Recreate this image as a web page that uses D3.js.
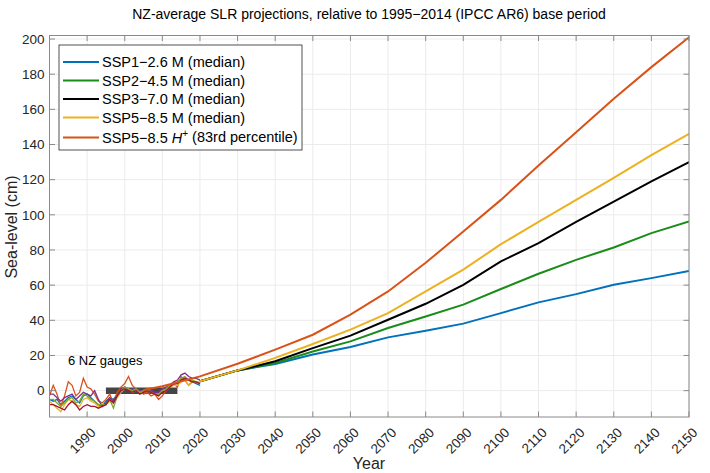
<!DOCTYPE html>
<html><head><meta charset="utf-8">
<script src="https://cdn.jsdelivr.net/npm/d3@7"></script>
<style>body{margin:0;background:#fff;} text{font-family:"Liberation Sans",Arial,sans-serif;}</style>
</head><body><svg id="c" width="710" height="473"></svg>
<script>
const projYears = [2020,2030,2040,2050,2060,2070,2080,2090,2100,2110,2120,2130,2140,2150];
const ssp126 = [5.3,11.5,15.2,20.5,24.8,30.3,34.1,38.1,44.1,50.2,54.9,60.2,64.0,68.0];
const ssp245 = [5.3,11.5,15.7,22.3,28.0,35.6,42.2,48.9,57.8,66.5,74.4,81.4,89.6,96.2];
const ssp370 = [5.3,11.5,16.7,24.2,31.3,40.3,49.4,60.2,73.5,83.9,96.0,107.5,119.0,130.0];
const ssp585 = [5.3,11.5,18.6,26.5,34.7,44.1,56.4,68.8,83.3,96.0,108.5,121.0,134.0,146.0];
const hYears = [2005,2010,2020,2030,2040,2050,2060,2070,2080,2090,2100,2110,2120,2130,2140,2150];
const ssp585H = [0.3,2.5,8.1,15.3,23.3,31.8,43.2,56.4,72.7,90.5,108.5,128.0,147.0,166.0,184.0,201.0];
const projNames = ["SSP1\u22122.6 M (median)","SSP2\u22124.5 M (median)","SSP3\u22127.0 M (median)","SSP5\u22128.5 M (median)"];
const projColors = ["#0072BD","#1a8c1a","#000000","#EDB120","#D95319"];

const gaugeYears = d3.range(1980, 2021);
const gauge1 = [-5,-6,-5,-8,-6,-4,-3,-5,-7,-3,-2,-4,-6,-8,-9,-6,-4,-5,-2,0,2,1,0,0,-1,0,1,0,-1,-2,0,1,2,4,4,6,7,6,5,4,3];
const gauge2 = [-3,3,-2,-9,-3,5,3,-3,-1,7,2,1,-2,-6,-7,-5,-2,-7,-1,2,4,8,3,1,0,-2,-1,-3,-2,-5,-3,0,3,4,2,8,6,3,5,5,4];
const gauge3 = [-6,-8,-10,-12,-8,-5,-6,-8,-9,-5,-4,-6,-7,-9,-9,-8,-6,-7,-4,-1,1,1,-1,0,-1,-1,0,-1,-2,-2,0,0,2,3,3,5,6,3,6,5,5];
const gauge4 = [-2,-2,-4,-6,-4,-3,-2,-5,-3,-1,-2,-3,0,-5,-9,-7,-4,-6,-3,1,2,0,1,1,0,0,1,0,-1,-1,1,2,3,5,6,9,10,8,7,7,6];
const gauge5 = [-5,-5,-7,-9,-7,-5,-4,-7,-6,-2,-3,-5,-6,-8,-8,-8,-5,-10,-3,0,2,1,0,1,-1,0,1,-1,-2,-2,0,1,3,4,5,7,8,6,6,5,4];
const gauge6 = [-8,-8,-9,-10,-11,-8,-6,-8,-11,-9,-8,-9,-9,-10,-9,-8,-5,-7,-3,0,1,0,-1,0,-2,-1,0,-1,-2,-3,-1,0,2,4,4,6,7,6,5,5,4];
const gaugeColors = ["#0072BD","#D95319","#EDB120","#7E2F8E","#77AC30","#A2142F"];
const basePeriod = [1995, 2014];
const xTicks = d3.range(1990, 2151, 10);
const yTicks = d3.range(0, 201, 20);

const svg = d3.select("#c");
const L=49.5, R=689, T=35.5, B=417;
const x = d3.scaleLinear().domain([1980,2150]).range([L,R]);
const y = d3.scaleLinear().domain([-15,202]).range([B,T]);

// grid
const g = svg.append("g");
g.selectAll(".gx").data(xTicks).join("line").attr("x1",d=>x(d)).attr("x2",d=>x(d)).attr("y1",T).attr("y2",B).attr("stroke","#ebebeb").attr("stroke-width",1);
g.selectAll(".gy").data(yTicks).join("line").attr("x1",L).attr("x2",R).attr("y1",d=>y(d)).attr("y2",d=>y(d)).attr("stroke","#ebebeb").attr("stroke-width",1);

const clip = svg.append("clipPath").attr("id","cp").append("rect").attr("x",L).attr("y",T).attr("width",R-L).attr("height",B-T);
const plot = svg.append("g").attr("clip-path","url(#cp)");

// base period bar
plot.append("line").attr("x1",x(basePeriod[0])).attr("x2",x(basePeriod[1])).attr("y1",y(0)).attr("y2",y(0)).attr("stroke","#454545").attr("stroke-width",6.5);

const line = d3.line().x(d=>x(d[0])).y(d=>y(d[1]));
[gauge1,gauge2,gauge3,gauge4,gauge5,gauge6].forEach((s,i)=>{
  plot.append("path").attr("d",line(gaugeYears.map((yr,j)=>[yr,s[j]]))).attr("fill","none").attr("stroke",gaugeColors[i]).attr("stroke-width",1.3);
});
[ssp126,ssp245,ssp370,ssp585].forEach((s,i)=>{
  plot.append("path").attr("d",line(projYears.map((yr,j)=>[yr,s[j]]))).attr("fill","none").attr("stroke",projColors[i]).attr("stroke-width",2);
});
plot.append("path").attr("d",line(hYears.map((yr,j)=>[yr,ssp585H[j]]))).attr("fill","none").attr("stroke",projColors[4]).attr("stroke-width",2);

// axes box
const ac="#8a8a8a";
svg.append("rect").attr("x",L).attr("y",T).attr("width",R-L).attr("height",B-T).attr("fill","none").attr("stroke",ac).attr("stroke-width",1);
const tl=5.5;
svg.selectAll(".tx").data(xTicks).join("g").each(function(d){
  const s=d3.select(this);
  s.append("line").attr("x1",x(d)).attr("x2",x(d)).attr("y1",B).attr("y2",B-tl).attr("stroke",ac);
  s.append("line").attr("x1",x(d)).attr("x2",x(d)).attr("y1",T).attr("y2",T+tl).attr("stroke",ac);
  s.append("text").attr("transform",`translate(${x(d)+6},${B+13}) rotate(-45)`).attr("text-anchor","end").attr("dy","0.35em").attr("font-size",13.5).attr("fill","#262626").text(d);
});
svg.selectAll(".ty").data(yTicks).join("g").each(function(d){
  const s=d3.select(this);
  s.append("line").attr("x1",L).attr("x2",L+tl).attr("y1",y(d)).attr("y2",y(d)).attr("stroke",ac);
  s.append("line").attr("x1",R).attr("x2",R-tl).attr("y1",y(d)).attr("y2",y(d)).attr("stroke",ac);
  s.append("text").attr("x",L-5).attr("y",y(d)).attr("dy","0.35em").attr("text-anchor","end").attr("font-size",13.5).attr("fill","#262626").text(d);
});

svg.append("text").attr("x",369).attr("y",19).attr("text-anchor","middle").attr("font-size",14).attr("fill","#000").text("NZ-average SLR projections, relative to 1995\u22122014 (IPCC AR6) base period");
svg.append("text").attr("x",369).attr("y",469).attr("text-anchor","middle").attr("font-size",16).attr("fill","#262626").text("Year");
svg.append("text").attr("transform","translate(17,227) rotate(-90)").attr("text-anchor","middle").attr("font-size",16).attr("fill","#262626").text("Sea-level (cm)");
svg.append("text").attr("x",68).attr("y",365).attr("font-size",13).attr("fill","#000").text("6 NZ gauges");

// legend
const lg = svg.append("g");
lg.append("rect").attr("x",59).attr("y",45).attr("width",243).attr("height",105).attr("fill","#fff").attr("stroke","#262626").attr("stroke-width",0.8);
const ly=[62,80.5,99,117.5,137.5];
projNames.forEach((n,i)=>{
  lg.append("line").attr("x1",63).attr("x2",99).attr("y1",ly[i]).attr("y2",ly[i]).attr("stroke",projColors[i]).attr("stroke-width",2);
  lg.append("text").attr("x",102).attr("y",ly[i]).attr("dy","0.36em").attr("font-size",14.5).attr("fill","#000").text(n);
});
lg.append("line").attr("x1",63).attr("x2",99).attr("y1",ly[4]).attr("y2",ly[4]).attr("stroke",projColors[4]).attr("stroke-width",2);
const t5 = lg.append("text").attr("x",102).attr("y",ly[4]).attr("dy","0.36em").attr("font-size",14.5).attr("fill","#000");
t5.append("tspan").text("SSP5\u22128.5 ");
t5.append("tspan").attr("font-style","italic").text("H");
t5.append("tspan").attr("font-size",10).attr("dy","-0.6em").text("+");
t5.append("tspan").attr("dy","0.35em").text(" (83rd percentile)");
</script></body></html>
